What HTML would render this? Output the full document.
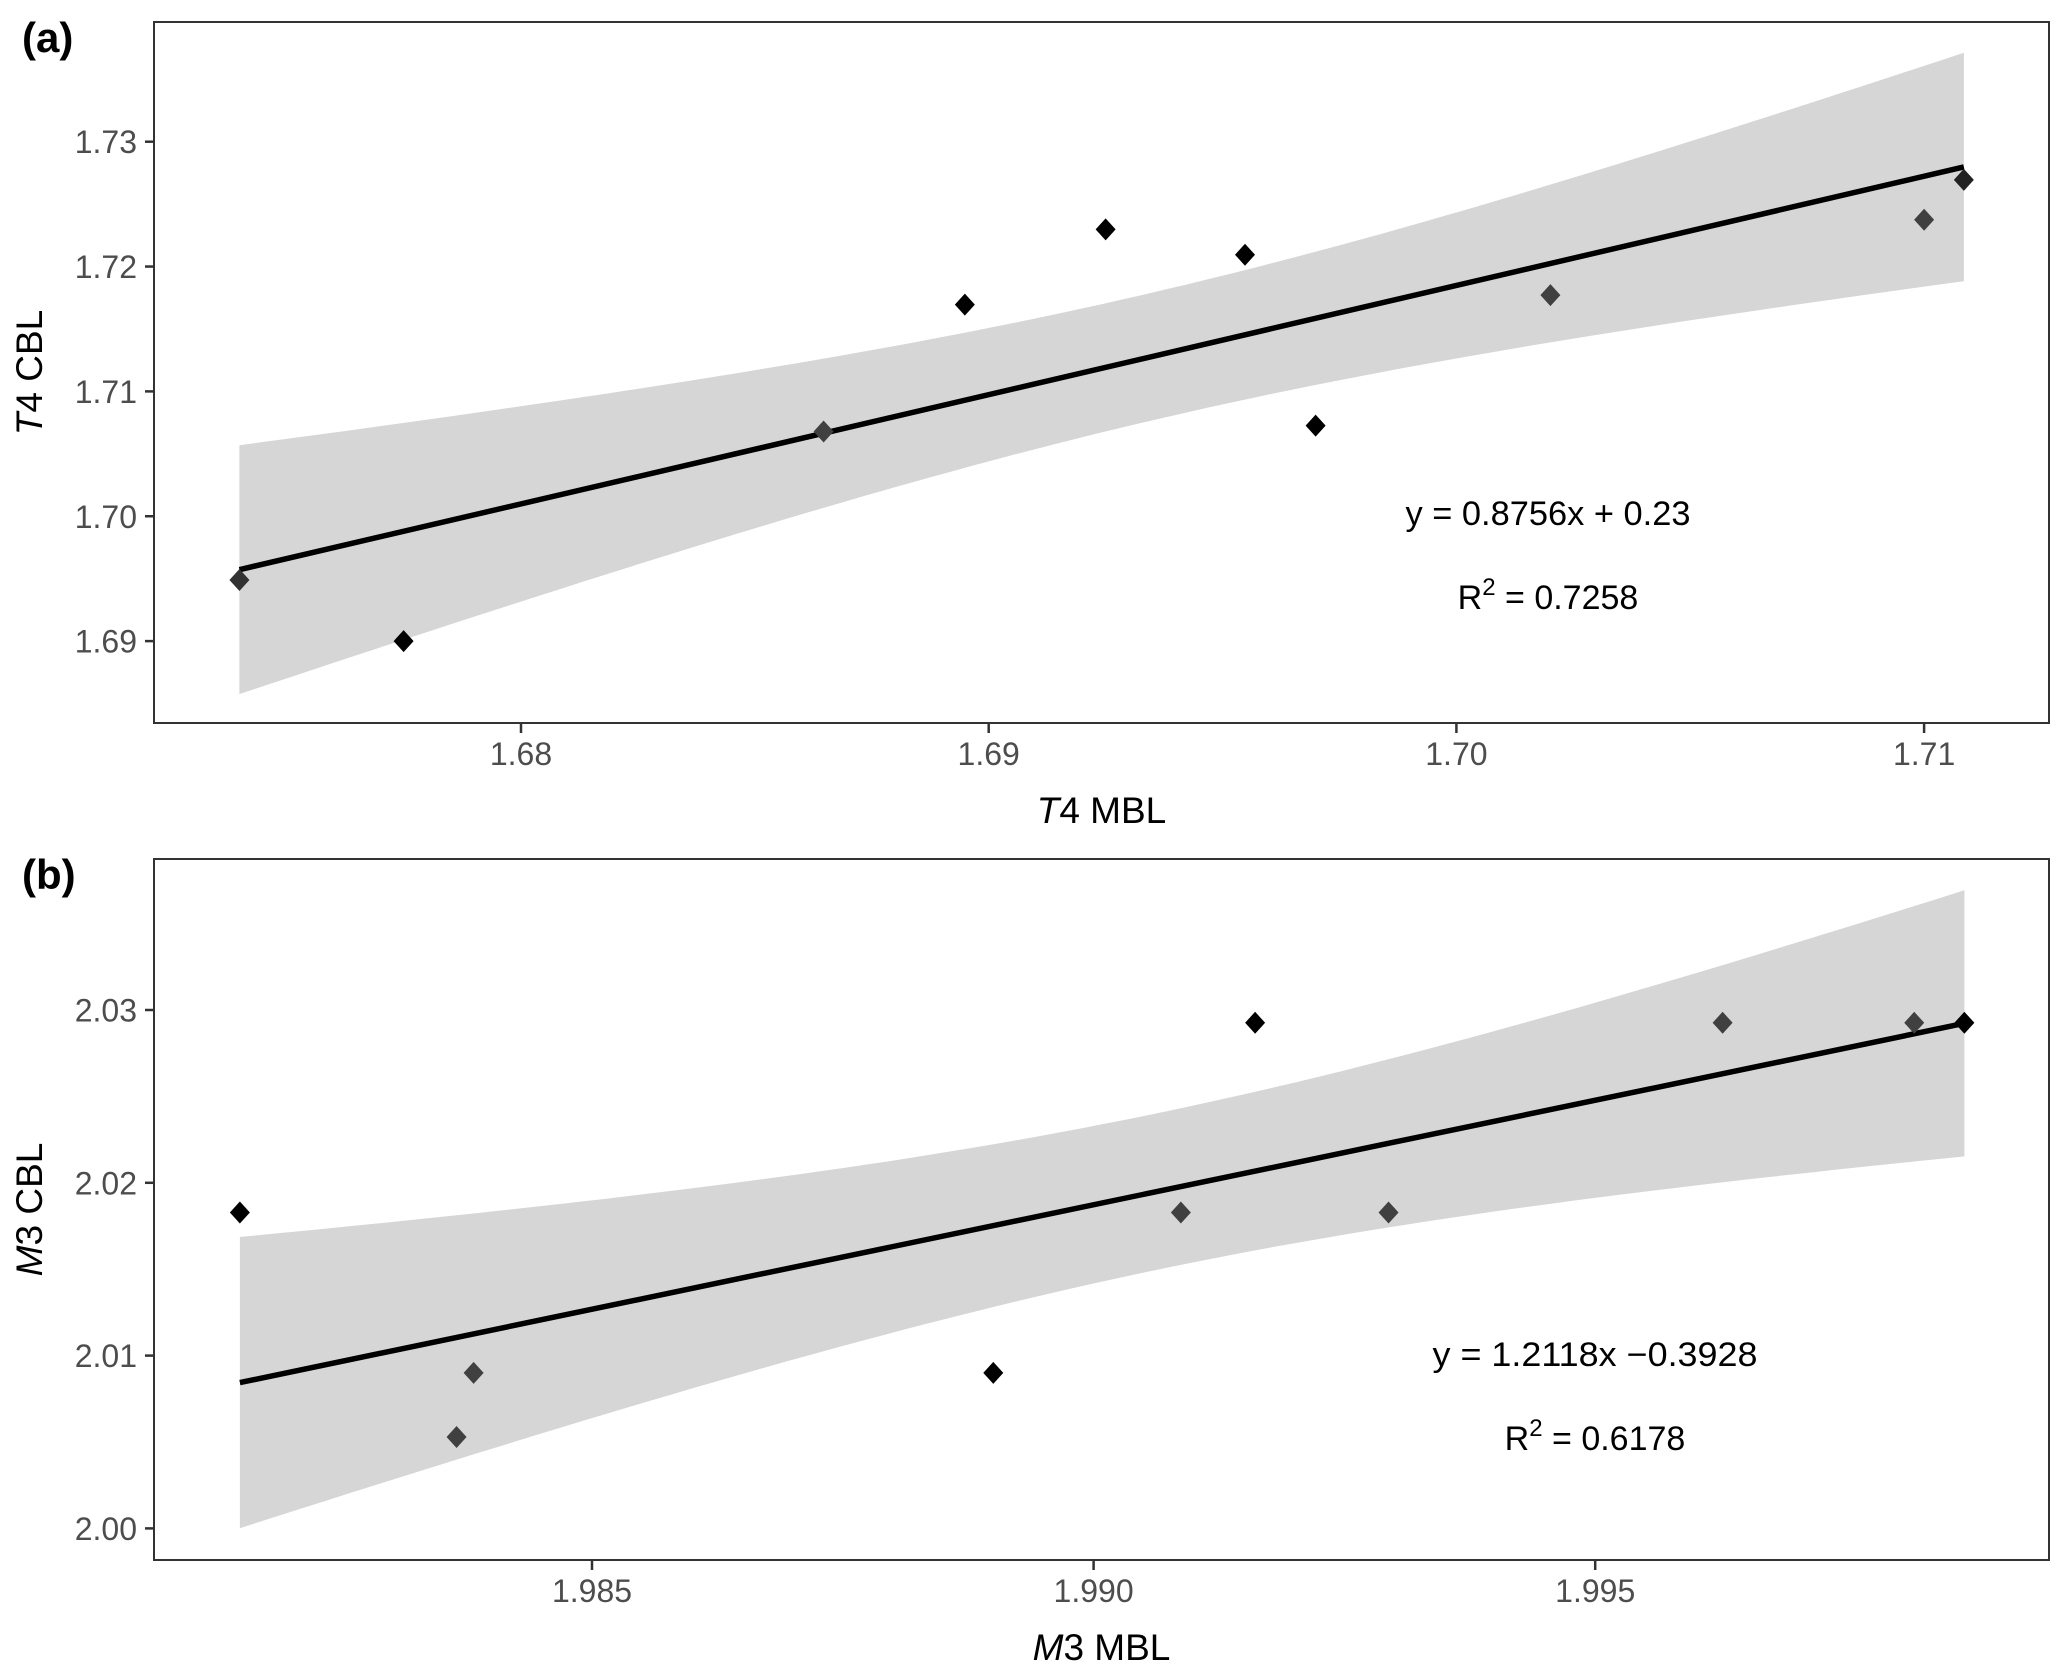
<!DOCTYPE html>
<html><head><meta charset="utf-8"><style>
html,body{margin:0;padding:0;background:#fff;}
svg{display:block;font-family:"Liberation Sans",Arial,sans-serif;}
</style></head><body>
<svg id="chart" width="2067" height="1678" viewBox="0 0 2067 1678" xmlns="http://www.w3.org/2000/svg">
<rect x="0" y="0" width="2067" height="1678" fill="#fff"/>
</svg>
<script>
// Panel (a) data
const aXTicks = [1.68, 1.69, 1.70, 1.71];
const aXTickLabels = ["1.68", "1.69", "1.70", "1.71"];
const aYTicks = [1.69, 1.70, 1.71, 1.72, 1.73];
const aYTickLabels = ["1.69", "1.70", "1.71", "1.72", "1.73"];
const aX = [1.67398, 1.67749, 1.68647, 1.68949, 1.69250, 1.69548, 1.69699, 1.70201, 1.71000, 1.71085];
const aY = [1.69489, 1.69000, 1.70679, 1.71695, 1.72298, 1.72095, 1.70726, 1.71771, 1.72375, 1.72694];
const aShade = ["#333", "#000", "#404040", "#000", "#000", "#000", "#000", "#404040", "#404040", "#222"];
const aEquation = "y = 0.8756x + 0.23";
const aR2 = "0.7258";
// Panel (b) data
const bXTicks = [1.985, 1.990, 1.995];
const bXTickLabels = ["1.985", "1.990", "1.995"];
const bYTicks = [2.00, 2.01, 2.02, 2.03];
const bYTickLabels = ["2.00", "2.01", "2.02", "2.03"];
const bX = [1.98149, 1.98382, 1.98365, 1.98900, 1.99087, 1.99161, 1.99294, 1.99627, 1.99818, 1.99868];
const bY = [2.01828, 2.00900, 2.00529, 2.00900, 2.01828, 2.02926, 2.01828, 2.02926, 2.02926, 2.02926];
const bShade = ["#000", "#404040", "#404040", "#000", "#404040", "#000", "#404040", "#404040", "#404040", "#000"];
const bEquation = "y = 1.2118x \u22120.3928";
const bR2 = "0.6178";

const NS = "http://www.w3.org/2000/svg";
const svg = document.getElementById("chart");
function mk(tag, attrs, parent, text) {
  const e = document.createElementNS(NS, tag);
  for (const k in attrs) e.setAttribute(k, attrs[k]);
  if (text !== undefined) e.textContent = text;
  (parent || svg).appendChild(e);
  return e;
}

function panel(cfg) {
  const g = mk("g", {});
  
  
  const sx = v => cfg.x0px + (v - cfg.x0) * cfg.kx;
  const sy = v => cfg.y0px - (v - cfg.y0) * cfg.ky;
  const xs = cfg.xs, ys = cfg.ys, n = xs.length;
  const mx = xs.reduce((a, b) => a + b, 0) / n, my = ys.reduce((a, b) => a + b, 0) / n;
  let sxx = 0, sxy = 0;
  for (let i = 0; i < n; i++) { sxx += (xs[i] - mx) ** 2; sxy += (xs[i] - mx) * (ys[i] - my); }
  const slope = sxy / sxx, icpt = my - slope * mx;
  let sse = 0;
  for (let i = 0; i < n; i++) sse += (ys[i] - icpt - slope * xs[i]) ** 2;
  const s = Math.sqrt(sse / (n - 2)), t = 2.306;
  const xmin = Math.min(...xs), xmax = Math.max(...xs);
  const up = [], lo = [];
  for (let i = 0; i <= 80; i++) {
    const xv = xmin + (xmax - xmin) * i / 80;
    const fit = icpt + slope * xv;
    const se = s * Math.sqrt(1 / n + (xv - mx) ** 2 / sxx);
    up.push(sx(xv).toFixed(1) + "," + sy(fit + t * se).toFixed(1));
    lo.unshift(sx(xv).toFixed(1) + "," + sy(fit - t * se).toFixed(1));
  }
  const band = mk("polygon", { points: up.concat(lo).join(" "), fill: "#d6d6d6" }, g);
  
  
  const line = mk("line", { x1: sx(xmin), y1: sy(icpt + slope * xmin), x2: sx(xmax), y2: sy(icpt + slope * xmax), stroke: "#000", "stroke-width": 5.5 }, g);
  
  
  for (let i = 0; i < n; i++) {
    const cx = sx(xs[i]), cy = sy(ys[i]);
    const p = mk("polygon", { points: `${cx},${cy - 11} ${cx + 10},${cy} ${cx},${cy + 11} ${cx - 10},${cy}`, fill: cfg.shade[i] }, g);
    
    
  }
  const fr = mk("rect", { x: cfg.left, y: cfg.top, width: cfg.right - cfg.left, height: cfg.bottom - cfg.top, fill: "none", stroke: "#333", "stroke-width": 2 }, g);
  
  
  cfg.xt.forEach((v, i) => {
    const x = sx(v);
    mk("line", { x1: x, y1: cfg.bottom, x2: x, y2: cfg.bottom + 10, stroke: "#333", "stroke-width": 2.5 }, g);
    const tl = mk("text", { x: x, y: cfg.bottom + 42, "text-anchor": "middle", "font-size": 32, fill: "#4d4d4d" }, g, cfg.xtl[i]);
    
    
  });
  cfg.yt.forEach((v, i) => {
    const y = sy(v);
    mk("line", { x1: cfg.left - 9, y1: y, x2: cfg.left, y2: y, stroke: "#333", "stroke-width": 2.5 }, g);
    const tl = mk("text", { x: 137, y: y + 11.5, "text-anchor": "end", "font-size": 32, fill: "#4d4d4d" }, g, cfg.ytl[i]);
    
    
  });
  const xtEl = mk("text", { x: (cfg.left + cfg.right) / 2, y: cfg.bottom + 100, "text-anchor": "middle", "font-size": 37, fill: "#000" }, g);
  
  
  mk("tspan", { "font-style": "italic" }, xtEl, cfg.var);
  mk("tspan", {}, xtEl, cfg.num + " MBL");
  const cy = (cfg.top + cfg.bottom) / 2;
  const ytEl = mk("text", { x: 0, y: 0, transform: `translate(42,${cy}) rotate(-90)`, "text-anchor": "middle", "font-size": 37, fill: "#000" }, g);
  
  
  mk("tspan", { "font-style": "italic" }, ytEl, cfg.var);
  mk("tspan", {}, ytEl, cfg.num + " CBL");
  const eq = mk("text", { x: cfg.eqx, y: cfg.eqy, "text-anchor": "middle", "font-size": 34, fill: "#000", textLength: cfg.eqw, lengthAdjust: "spacingAndGlyphs" }, g, cfg.eq);
  
  
  const r2 = mk("text", { x: cfg.eqx, y: cfg.eqy + 84, "text-anchor": "middle", "font-size": 34, fill: "#000" }, g);
  
  
  mk("tspan", {}, r2, "R");
  mk("tspan", { dy: -14, "font-size": 24 }, r2, "2");
  mk("tspan", { dy: 14 }, r2, " = " + cfg.r2);
  const lab = mk("text", { x: 22, y: cfg.top + 30, "font-size": 42, "font-weight": "bold", fill: "#000" }, g, cfg.tag);
  
  
}

panel({ name: "panel-a", tag: "(a)", var: "T", num: "4", left: 154, right: 2049, top: 22, bottom: 723,
  x0: 1.68, x0px: 521, kx: 46770, y0: 1.73, y0px: 141.7, ky: 12485,
  xs: aX, ys: aY, shade: aShade, xt: aXTicks, xtl: aXTickLabels, yt: aYTicks, ytl: aYTickLabels,
  eq: aEquation, r2: aR2, eqx: 1548, eqy: 525, eqw: 285 });
panel({ name: "panel-b", tag: "(b)", var: "M", num: "3", left: 154, right: 2049, top: 859, bottom: 1560,
  x0: 1.985, x0px: 592, kx: 100320, y0: 2.03, y0px: 1010, ky: 17280,
  xs: bX, ys: bY, shade: bShade, xt: bXTicks, xtl: bXTickLabels, yt: bYTicks, ytl: bYTickLabels,
  eq: bEquation, r2: bR2, eqx: 1595, eqy: 1366, eqw: 325 });
</script>
</body></html>
